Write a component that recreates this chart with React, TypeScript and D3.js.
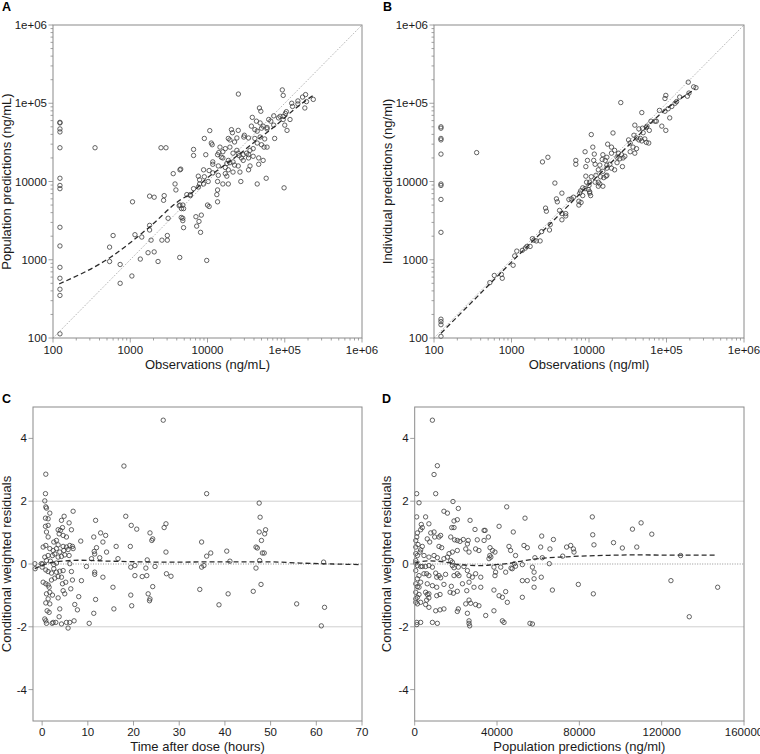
import React from 'react';
import * as d3 from 'd3';

type Pt = [number, number];

const FONT = '"Liberation Sans", Arial, Helvetica, sans-serif';

// ---------- Tick definitions ----------
const logTickValues = [100, 1000, 10000, 100000, 1000000];
const logTickLabels = ['100', '1000', '10000', '1e+05', '1e+06'];
const residTickValues = [-4, -2, 0, 2, 4];
const timeTickValues = [0, 10, 20, 30, 40, 50, 60, 70];
const predTickValues = [0, 40000, 80000, 120000, 160000];

// ---------- Panel A: observations vs population predictions ----------
const panelAPoints: Pt[] = [
  [123, 57000], [123, 56000], [123, 47000], [123, 43000], [123, 27000], [123, 11000], [123, 8900], [123, 8100],
  [123, 2600], [123, 1500], [123, 800], [123, 580], [123, 420], [123, 350], [123, 113],
  [350, 27000], [2500, 27000], [2900, 27000], [6600, 25700], [6600, 21500], [3600, 12600], [4500, 14400],
  [9100, 35500], [10700, 44700], [25100, 131000], [93000, 148000], [95500, 126000], [186000, 129000],
  [234000, 112000], [182000, 87000], [170000, 120000], [191000, 105000], [148000, 107000], [148000, 98000],
  [123000, 100000], [126000, 91000], [105000, 78000], [102000, 74000], [87000, 68000], [83000, 65000],
  [95500, 68000], [72000, 69000], [72000, 52500], [74000, 35500], [66000, 59000], [62000, 62000],
  [47000, 87000], [49000, 79000], [38000, 66000], [43000, 59000], [48000, 56000], [52500, 51000],
  [50000, 48000], [59000, 47000], [59000, 49000], [100000, 52500], [107000, 45000], [95500, 62000],
  [117000, 62000], [37000, 51000], [41000, 46000], [44000, 44000], [30000, 39000], [29500, 37000],
  [34000, 36000], [41000, 35500], [48000, 37000], [55000, 35000], [44000, 31000], [50000, 29500],
  [59000, 27500], [54000, 27500], [20400, 46000], [21000, 42000], [25000, 45000], [18600, 35500],
  [19500, 34000], [22400, 32000], [24000, 36000], [11200, 31000], [11500, 29500], [14500, 27500],
  [17000, 26300], [15800, 24000], [19500, 27500], [24000, 25000], [21400, 23000], [9500, 22000],
  [14000, 23400], [13500, 22000], [15100, 20400], [25000, 23000], [25700, 21400], [29000, 22000],
  [27500, 20000], [32000, 23000], [35500, 25000], [39000, 26300], [34000, 22000], [15800, 20000],
  [18600, 18600], [17800, 17000], [19500, 17400], [21400, 17800], [22400, 16200], [25000, 15800],
  [29000, 18600], [34000, 20000], [39000, 21000], [11700, 17800], [11700, 16600], [13800, 15800],
  [17000, 15100], [18600, 14100], [21400, 13200], [26300, 13200], [34000, 14100], [35500, 15800],
  [46000, 20000], [52500, 18600], [46000, 16600], [8900, 14100], [10500, 13800], [11700, 12900],
  [7600, 11700], [9100, 11500], [13800, 12000], [17000, 12600], [17800, 11700], [7900, 10500],
  [8900, 9300], [10200, 10000], [13500, 10000], [15800, 9300], [18600, 9300], [27000, 10000],
  [44000, 9300], [57500, 11000], [98000, 8300], [5400, 6800], [6000, 6800], [13200, 6800], [6600, 8100],
  [7600, 8500], [13500, 7800], [4400, 14100], [3800, 9300], [3900, 7800], [7900, 9300], [13500, 5500],
  [1070, 5500], [1780, 6500], [2040, 6300], [2750, 6600], [2700, 5750], [4400, 5000], [4800, 5000],
  [4300, 4900], [4600, 4500], [4900, 4500], [6000, 6600], [600, 2040], [540, 1450], [540, 950],
  [740, 870], [740, 500], [1050, 620], [1150, 2090], [1410, 1950], [1350, 1020], [1700, 1230],
  [1780, 2750], [1780, 2400], [1860, 1780], [2040, 1260], [2290, 950], [2570, 1780], [3020, 2040],
  [3020, 1780], [3090, 3390], [4370, 1070], [4570, 3470], [4790, 3390], [4790, 3160], [4900, 2570],
  [7080, 3550], [7240, 2690], [7760, 3090], [8130, 2240], [10000, 5000], [10500, 4790], [9770, 980],
  [8320, 3720],
];
const panelALoess: Pt[] = [
  [120, 490], [550, 1070], [1780, 2630], [4370, 5750], [6170, 7080], [9770, 10960], [11750, 12590],
  [25120, 21880], [43650, 33880], [77620, 52480], [128800, 81280], [190500, 109600], [234400, 125900],
];

// ---------- Panel B: observations vs individual predictions ----------
const panelBPoints: Pt[] = [
  [123, 50000], [123, 48000], [123, 35500], [123, 34000], [123, 22400], [123, 9300], [123, 8900], [123, 5900],
  [123, 2240], [123, 174], [123, 162], [123, 148], [123, 105],
  [355, 23400], [2510, 17800], [2950, 20400], [6760, 18600], [6760, 16600], [10700, 39800], [20400, 41700],
  [25700, 102000], [8900, 24000], [11200, 27500], [11700, 22400],
  [191000, 186000], [224000, 162000], [240000, 158000], [98000, 126000], [95500, 115000], [195000, 135000],
  [186000, 123000], [148000, 120000], [135000, 105000], [129000, 100000], [117000, 91000], [105000, 85000],
  [95500, 79000], [81000, 81000], [74000, 59000], [71000, 59000], [110000, 65000], [98000, 45000],
  [87000, 51000], [48000, 76000], [63000, 59000], [56000, 51000], [55000, 49000], [60000, 45000],
  [39000, 52500], [44000, 47000], [49000, 48000], [50000, 42000], [38000, 39000], [41000, 36000],
  [46000, 35500], [44000, 34000], [48000, 33000], [52500, 35000], [55000, 31600], [59000, 31000],
  [32400, 34000], [34000, 31000], [37000, 27500], [41000, 26300], [17400, 30000], [19500, 27500],
  [21400, 25000], [24000, 23000], [26300, 22000], [29000, 21000], [19500, 23000], [23000, 20400],
  [25000, 19500], [34000, 24000], [39000, 23000], [15100, 22000], [17000, 20400], [14800, 19100],
  [16200, 18600], [11500, 18600], [9100, 15500], [9550, 18600], [12000, 16600], [13800, 16200],
  [17000, 16200], [18600, 16600], [13200, 14100], [15100, 13500], [17000, 14800], [19500, 14800],
  [21400, 14100], [27000, 15500], [27500, 20000], [23000, 17400], [9100, 11700], [10700, 11500],
  [12300, 12000], [14100, 11500], [16600, 11700], [10200, 9800], [12000, 9800], [13800, 9300],
  [13200, 8700], [15100, 8700], [8900, 8100], [9800, 7900], [10200, 7100], [8300, 6600], [7600, 7100],
  [6300, 6300], [3630, 9550], [3800, 6000], [3900, 5500], [4470, 7100], [2750, 4570], [2820, 4170],
  [4170, 4270], [4470, 3890], [4470, 3240], [5010, 3890], [5010, 3630], [3160, 2820], [3090, 2400],
  [2450, 2290], [2340, 1740], [1860, 1860], [1950, 1780], [2090, 1740], [1740, 1480], [1580, 1480],
  [1510, 1410], [1170, 1290], [1100, 1120], [1050, 850], [1380, 1320], [740, 650], [760, 580],
  [600, 630], [525, 510], [5500, 5900], [5900, 6000], [7400, 5600], [7400, 5000], [7900, 5400],
  [7800, 7600], [8300, 8300], [9300, 9800], [10000, 8900], [10200, 7400], [10500, 6600], [13200, 9800],
  [15500, 11200], [17000, 12000],
];
const panelBLoess: Pt[] = [
  [123, 115], [316, 295], [1000, 933], [3160, 2880], [10000, 9120], [31600, 28200], [100000, 85100],
  [182000, 129000], [234000, 151000],
];

// ---------- Panel C: time after dose vs CWRES ----------
const panelCPoints: Pt[] = [
  [0.8, 2.86], [17.9, 3.12], [0.73, 2.24], [0.58, 2.01], [0.8, 1.82], [0.95, 1.78], [1.68, 1.62], [0.73, 1.46],
  [1.31, 1.44], [6.78, 1.68], [0.73, 1.2], [1.31, 1.23], [4.23, 1.39], [4.81, 1.52], [5.9, 1.31], [11.7, 1.39],
  [18.3, 1.52], [19.5, 1.23], [20.7, 1.11], [0.95, 1.02], [1.31, 0.86], [3.5, 1.09], [4.01, 1.07], [4.45, 1.16],
  [3.72, 0.96], [4.59, 0.91], [5.32, 0.86], [6.41, 1.09], [12.8, 0.99], [13.9, 0.91], [11.3, 0.86], [13.3, 0.7],
  [8.45, 0.73], [0.22, 0.54], [0.8, 0.59], [1.68, 0.49], [2.55, 0.7], [3.13, 0.75], [3.5, 0.61], [4.59, 0.56],
  [5.32, 0.54], [6.05, 0.59], [6.63, 0.56], [6.78, 0.49], [2.41, 0.43], [3.13, 0.49], [3.86, 0.38], [4.74, 0.43],
  [5.68, 0.46], [0.58, 0.22], [1.31, 0.27], [2.26, 0.27], [2.77, 0.32], [3.5, 0.22], [4.23, 0.24], [4.95, 0.29],
  [5.9, 0.27], [0.95, 0.11], [1.82, 0.09], [11.4, 0.4], [11.5, 0.32], [11.9, 0.52], [14.1, 0.38], [16.2, 0.56],
  [19.3, 0.56], [9.69, -0.08], [10.8, 0.17], [12.6, 0.2], [16.6, 0.17], [-1.6, 0.01], [-0.15, 0.01],
  [2.55, -0.02], [3.13, 0.03], [6.05, 0.01], [0.8, -0.19], [1.31, -0.24], [2.04, -0.29], [2.55, -0.15],
  [3.13, -0.26], [3.86, -0.23], [4.59, -0.21], [6.41, -0.24], [11.5, -0.26], [11.5, -0.33], [20.3, -0.05],
  [19.4, -0.1], [0.22, -0.58], [0.8, -0.63], [1.31, -0.67], [1.53, -0.74], [2.04, -0.51], [2.77, -0.45],
  [3.5, -0.4], [4.23, -0.42], [4.45, -0.63], [5.17, -0.58], [6.63, -0.51], [8.6, -0.53], [13.3, -0.42],
  [15.5, -0.74], [0.95, -0.95], [1.68, -0.9], [2.26, -0.99], [3.5, -1.08], [1.31, -1.11], [1.68, -1.27],
  [0.8, -1.24], [4.59, -0.85], [4.95, -0.95], [6.27, -0.79], [8.01, -1.04], [11.7, -1.13], [7.14, -1.29],
  [7.72, -1.46], [1.09, -1.49], [1.53, -1.54], [3.86, -1.43], [11.3, -1.57], [15.7, -1.43], [19.4, -0.99],
  [19.6, -1.33], [0.58, -1.75], [0.8, -1.81], [0.95, -1.89], [2.19, -1.89], [2.41, -1.86], [2.99, -1.86],
  [3.72, -1.68], [4.23, -1.91], [5.32, -1.86], [5.68, -2.04], [6.05, -1.86], [6.99, -1.81], [10.3, -1.89],
  [20.3, -0.37], [21.9, -0.4], [26.5, 4.58], [36.0, 2.24], [47.5, 1.94], [47.7, 1.49], [48.9, 1.09],
  [48.7, 0.96], [47.5, 1.02], [48.0, 0.75], [46.8, 0.54], [47.1, 0.51], [48.2, 0.35], [48.6, 0.35],
  [34.9, 0.7], [36.0, 0.25], [36.9, 0.35], [40.4, 0.41], [41.1, 0.09], [47.6, 0.11], [61.6, 0.06],
  [27.1, 1.28], [26.7, 1.16], [27.1, 0.38], [22.7, -0.13], [24.7, -0.08], [23.0, 0.13], [23.6, 0.99],
  [24.0, 0.75], [24.2, 0.8], [35.4, -0.05], [46.8, -0.13], [34.9, -0.1], [27.2, -0.31], [28.2, -0.39],
  [34.5, -0.81], [38.7, -1.3], [40.7, -0.95], [46.2, -0.87], [47.9, -0.65], [55.7, -1.27], [61.8, -1.38],
  [61.1, -1.97], [22.9, -0.37], [23.2, -0.95], [23.5, -1.17], [23.6, -1.11], [24.2, -0.72], [-1.53, -0.15],
  [0.0, -0.1], [0.1, 0.0],
];
const panelCLoess: Pt[] = [
  [-1.6, -0.15], [0, -0.05], [2, 0.05], [5, 0.1], [8.3, 0.12], [14.9, 0.09], [27.2, 0.06], [41.8, 0.07],
  [49.1, 0.07], [56.4, 0.03], [63.7, 0.0], [69.9, -0.02],
];

// ---------- Panel D: population predictions vs CWRES ----------
const panelDPoints: Pt[] = [
  [11000, 3.13], [9400, 2.85], [10200, 2.24], [960, 2.24], [2100, 1.95], [18600, 1.99], [21200, 1.77],
  [44700, 1.82], [53600, 1.46], [960, 1.5], [5300, 1.5], [14200, 1.68], [15900, 1.62], [3200, 1.26],
  [2900, 1.09], [3700, 1.16], [6900, 1.28], [19100, 1.37], [20700, 1.41], [26900, 1.39], [1300, 0.99],
  [1000, 0.86], [7800, 0.99], [9400, 1.02], [9700, 0.86], [11800, 0.86], [12600, 0.91], [18000, 1.16],
  [19100, 1.16], [29300, 1.1], [33700, 1.07], [34200, 1.07], [41000, 1.2], [47900, 1.02], [61700, 0.89],
  [500, 0.75], [500, 0.54], [1600, 0.62], [3700, 0.56], [6100, 0.8], [7300, 0.7], [11800, 0.56],
  [13100, 0.52], [17500, 0.86], [19400, 0.77], [20700, 0.75], [22000, 0.72], [23600, 0.78], [26000, 0.75],
  [25600, 0.64], [30400, 0.77], [33700, 0.75], [35800, 0.86], [20700, 0.43], [18300, 0.38], [16700, 0.33],
  [24800, 0.48], [26400, 0.38], [29600, 0.48], [31200, 0.43], [36600, 0.52], [37800, 0.43], [39000, 0.38],
  [36500, 0.27], [37000, 0.22], [36100, 0.17], [45800, 0.56], [46600, 0.43], [49000, 0.27], [53100, 0.59],
  [54700, 0.52], [58400, 0.2], [61200, 0.54], [62000, 0.2], [500, 0.33], [1300, 0.27], [2600, 0.38],
  [2900, 0.45], [4500, 0.27], [6900, 0.22], [9400, 0.27], [11000, 0.2], [14200, 0.17], [15900, 0.22],
  [17500, 0.11], [18300, 0.06], [500, 0.11], [500, 0.03], [1300, -0.05], [2900, -0.08], [3700, -0.08],
  [5300, -0.08], [6900, -0.05], [8600, -0.1], [18300, -0.05], [19100, -0.12], [21200, -0.1], [23900, -0.08],
  [25600, -0.21], [38500, -0.1], [39300, -0.26], [41800, -0.1], [44200, -0.26], [47400, -0.15], [49000, -0.07],
  [52300, -0.02], [57200, -0.1], [58000, -0.26], [500, -0.21], [2100, -0.37], [1300, -0.47], [4500, -0.31],
  [5800, -0.31], [6900, -0.37], [10200, -0.29], [11800, -0.37], [10700, -0.42], [12600, -0.44], [15000, -0.33],
  [19100, -0.37], [20700, -0.31], [21500, -0.37], [26400, -0.37], [29600, -0.31], [32100, -0.74], [28000, -0.42],
  [32100, -0.42], [39000, -0.37], [52300, -0.53], [54700, -0.53], [58000, -0.47], [61500, -0.42], [500, -0.63],
  [1300, -0.72], [2100, -0.74], [2900, -0.58], [6100, -0.63], [8600, -0.69], [10700, -0.74], [14200, -0.65],
  [17800, -0.71], [23200, -0.63], [26400, -0.58], [28800, -0.74], [38500, -0.83], [44200, -0.88], [58000, -0.74],
  [500, -0.9], [1300, -1.06], [2100, -0.97], [5300, -0.9], [6900, -0.95], [10700, -1.01], [12300, -0.97],
  [17200, -0.9], [18800, -0.93], [20700, -0.87], [25300, -0.85], [26400, -1.15], [500, -1.11], [500, -1.22],
  [1300, -1.27], [2900, -1.22], [6100, -0.97], [6900, -1.08], [5800, -1.15], [24800, -1.27], [27200, -1.25],
  [29600, -1.29], [31200, -1.33], [41000, -1.01], [42600, -1.06], [45000, -1.22], [52300, -1.06], [5300, -1.29],
  [6900, -1.38], [10200, -1.49], [14200, -1.43], [12300, -1.46], [21200, -1.43], [25600, -1.57], [20700, -1.51],
  [34500, -1.64], [38500, -1.49], [42600, -1.81], [43400, -1.86], [1000, -1.86], [2900, -1.86], [1000, -1.93],
  [8600, -1.86], [11000, -1.89], [26400, -1.81], [26400, -1.89], [26700, -1.97], [56000, -1.89], [57200, -1.91],
  [8600, 4.58], [86300, 1.5], [86500, 0.93], [87100, 0.61], [96600, 0.68], [100900, 0.51], [105800, 1.11],
  [110000, 1.31], [107900, 0.54], [115200, 0.95], [129200, 0.27], [67400, 0.78], [65700, 0.48], [73800, 0.54],
  [75800, 0.59], [77100, 0.48], [77400, 0.38], [71900, 0.25], [124500, -0.53], [133400, -1.68], [147200, -0.74],
  [79500, -0.65], [86800, -0.95], [66900, -0.83], [65400, 0.01], [48400, 0.01], [46800, -0.13],
];
const panelDLoess: Pt[] = [
  [0, 0.03], [6100, 0.1], [11000, 0.09], [22300, -0.02], [32100, -0.05], [38500, -0.02], [44900, 0.01],
  [53200, 0.11], [61300, 0.18], [73800, 0.23], [80300, 0.25], [96600, 0.28], [106000, 0.29], [129000, 0.28],
  [146700, 0.28],
];

// ---------- Styles ----------
const BOX = '#8a8a8a';
const PT = '#3c3c3c';
const TXT = '#1a1a1a';

type Box = { l: number; r: number; t: number; b: number };

function Frame({ box }: { box: Box }) {
  return (
    <rect x={box.l} y={box.t} width={box.r - box.l} height={box.b - box.t} fill="none" stroke={BOX} strokeWidth={1} />
  );
}

function Points({ pts, x, y }: { pts: Pt[]; x: (v: number) => number; y: (v: number) => number }) {
  return (
    <g fill="none" stroke={PT} strokeWidth={0.8}>
      {pts.map((p, i) => (
        <circle key={i} cx={x(p[0])} cy={y(p[1])} r={2.2} />
      ))}
    </g>
  );
}

function Loess({ pts, x, y }: { pts: Pt[]; x: (v: number) => number; y: (v: number) => number }) {
  const line = d3
    .line<Pt>()
    .x((d) => x(d[0]))
    .y((d) => y(d[1]))
    .curve(d3.curveMonotoneX);
  return <path d={line(pts) || ''} fill="none" stroke="#2a2a2a" strokeWidth={1.3} strokeDasharray="5,3" />;
}

function LogPanel({
  box, pts, loess, xTitle, yTitle, letter, letterX, yTitleX,
}: {
  box: Box; pts: Pt[]; loess: Pt[]; xTitle: string; yTitle: string; letter: string; letterX: number; yTitleX: number;
}) {
  const x = d3.scaleLog().domain([100, 1e6]).range([box.l, box.r]);
  const y = d3.scaleLog().domain([100, 1e6]).range([box.b, box.t]);
  const minor = x.ticks().filter((v) => !logTickValues.includes(v));
  const cx = (box.l + box.r) / 2;
  const cy = (box.t + box.b) / 2;
  return (
    <g fontFamily={FONT}>
      <text x={letterX} y={11} fontSize={12.5} fontWeight="bold" fill="#000">{letter}</text>
      {/* identity line */}
      <line x1={x(100)} y1={y(100)} x2={x(1e6)} y2={y(1e6)} stroke="#888" strokeWidth={0.8} strokeDasharray="1,1.5" />
      <Points pts={pts} x={x} y={y} />
      <Loess pts={loess} x={x} y={y} />
      <Frame box={box} />
      {/* minor ticks */}
      <g stroke={BOX} strokeWidth={0.8}>
        {minor.map((v) => (
          <line key={'mx' + v} x1={x(v)} x2={x(v)} y1={box.b} y2={box.b + 2.5} />
        ))}
        {minor.map((v) => (
          <line key={'my' + v} x1={box.l - 2.5} x2={box.l} y1={y(v)} y2={y(v)} />
        ))}
        {logTickValues.map((v) => (
          <line key={'Mx' + v} x1={x(v)} x2={x(v)} y1={box.b} y2={box.b + 4.5} />
        ))}
        {logTickValues.map((v) => (
          <line key={'My' + v} x1={box.l - 4.5} x2={box.l} y1={y(v)} y2={y(v)} />
        ))}
      </g>
      <g fontSize={11.5} fill={TXT}>
        {logTickValues.map((v, i) => (
          <text key={'lx' + v} x={x(v)} y={box.b + 16} textAnchor="middle">{logTickLabels[i]}</text>
        ))}
        {logTickValues.map((v, i) => (
          <text key={'ly' + v} x={box.l - 6} y={y(v) + 4} textAnchor="end">{logTickLabels[i]}</text>
        ))}
      </g>
      <text x={cx} y={box.b + 31} textAnchor="middle" fontSize={13} fill={TXT}>{xTitle}</text>
      <text transform={`translate(${yTitleX},${cy}) rotate(-90)`} textAnchor="middle" fontSize={13} fill={TXT}>{yTitle}</text>
    </g>
  );
}

function ResidPanel({
  box, pts, loess, xDomain, xTicks, xTitle, letter, letterX, yTitleX,
}: {
  box: Box; pts: Pt[]; loess: Pt[]; xDomain: [number, number]; xTicks: number[]; xTitle: string; letter: string; letterX: number; yTitleX: number;
}) {
  const x = d3.scaleLinear().domain(xDomain).range([box.l, box.r]);
  const y = d3.scaleLinear().domain([-5, 5]).range([box.b, box.t]);
  const cx = (box.l + box.r) / 2;
  const cy = (box.t + box.b) / 2;
  return (
    <g fontFamily={FONT}>
      <text x={letterX} y={403} fontSize={12.5} fontWeight="bold" fill="#000">{letter}</text>
      <line x1={box.l} x2={box.r} y1={y(2)} y2={y(2)} stroke="#cfcfcf" strokeWidth={1} />
      <line x1={box.l} x2={box.r} y1={y(-2)} y2={y(-2)} stroke="#cfcfcf" strokeWidth={1} />
      <line x1={box.l} x2={box.r} y1={y(0)} y2={y(0)} stroke="#777" strokeWidth={0.8} strokeDasharray="1,1.5" />
      <Points pts={pts} x={x} y={y} />
      <Loess pts={loess} x={x} y={y} />
      <Frame box={box} />
      <g stroke={BOX} strokeWidth={0.8}>
        {xTicks.map((v) => (
          <line key={'tx' + v} x1={x(v)} x2={x(v)} y1={box.b} y2={box.b + 4.5} />
        ))}
        {residTickValues.map((v) => (
          <line key={'ty' + v} x1={box.l - 4.5} x2={box.l} y1={y(v)} y2={y(v)} />
        ))}
      </g>
      <g fontSize={11.5} fill={TXT}>
        {xTicks.map((v) => (
          <text key={'lx' + v} x={x(v)} y={box.b + 15} textAnchor="middle">{String(v)}</text>
        ))}
        {residTickValues.map((v) => (
          <text key={'ly' + v} x={box.l - 6} y={y(v) + 4} textAnchor="end">{String(v)}</text>
        ))}
      </g>
      <text x={cx} y={box.b + 30} textAnchor="middle" fontSize={13} fill={TXT}>{xTitle}</text>
      <text transform={`translate(${yTitleX},${cy}) rotate(-90)`} textAnchor="middle" fontSize={13} fill={TXT}>
        Conditional weighted residuals
      </text>
    </g>
  );
}

export default function App() {
  return (
    <svg
      width={760}
      height={754}
      viewBox="0 0 760 754"
      style={{ position: 'absolute', left: 0, top: 0, display: 'block', background: '#fff' }}
    >
      <rect x={0} y={0} width={760} height={754} fill="#fff" />
      <LogPanel
        box={{ l: 53, r: 362, t: 25, b: 338 }}
        pts={panelAPoints}
        loess={panelALoess}
        xTitle="Observations (ng/mL)"
        yTitle="Population predictions (ng/mL)"
        letter="A"
        letterX={2}
        yTitleX={11}
      />
      <LogPanel
        box={{ l: 434, r: 744, t: 25, b: 338 }}
        pts={panelBPoints}
        loess={panelBLoess}
        xTitle="Observations (ng/ml)"
        yTitle="Individual predictions (ng/ml)"
        letter="B"
        letterX={383}
        yTitleX={392}
      />
      <ResidPanel
        box={{ l: 33, r: 362, t: 407, b: 721 }}
        pts={panelCPoints}
        loess={panelCLoess}
        xDomain={[-2, 70]}
        xTicks={timeTickValues}
        xTitle="Time after dose (hours)"
        letter="C"
        letterX={2}
        yTitleX={11}
      />
      <ResidPanel
        box={{ l: 414.7, r: 744, t: 407, b: 721 }}
        pts={panelDPoints}
        loess={panelDLoess}
        xDomain={[0, 160000]}
        xTicks={predTickValues}
        xTitle="Population predictions (ng/ml)"
        letter="D"
        letterX={382}
        yTitleX={391}
      />
    </svg>
  );
}
